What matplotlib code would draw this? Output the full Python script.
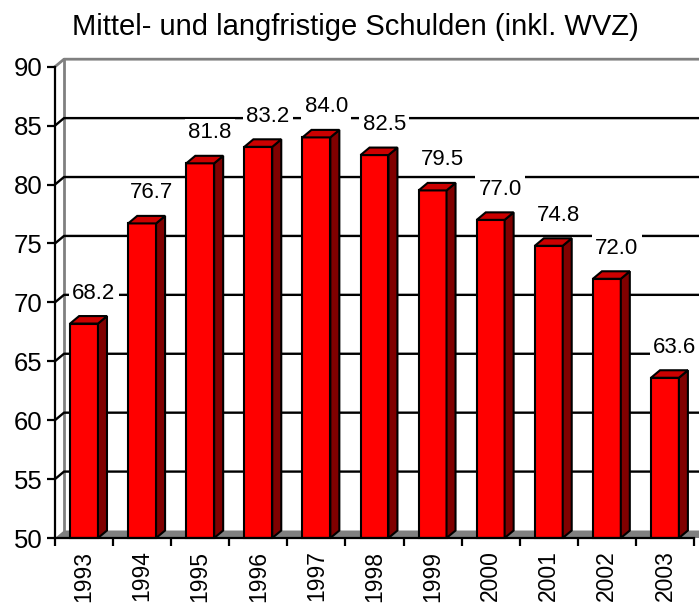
import matplotlib.pyplot as plt
from matplotlib.patches import Polygon, Rectangle

years = ['1993', '1994', '1995', '1996', '1997', '1998', '1999', '2000', '2001', '2002', '2003']
debt = [68.2, 76.7, 81.8, 83.2, 84.0, 82.5, 79.5, 77.0, 74.8, 72.0, 63.6]
yticks = [50, 55, 60, 65, 70, 75, 80, 85, 90]

plt.rcParams['font.family'] = ['Liberation Sans', 'DejaVu Sans']

fig = plt.figure(figsize=(6.99, 6.03), dpi=100)
ax = fig.add_axes([55 / 699, 65 / 603, 639 / 699, 471.3 / 603])

ymin, ymax = 50, 90
ncat = len(years)
ax.set_xlim(0, ncat)
ax.set_ylim(ymin, ymax)

# depth offset of the 3D look, in data units
dx = 9 / 58.1
dy = 7.5 / 11.78
bw = 0.48

# back wall + side wall
ax.add_patch(Polygon([(dx, ymin + dy), (ncat + dx, ymin + dy), (ncat + dx, ymax + dy), (dx, ymax + dy)],
                     closed=True, fc='white', ec='none', clip_on=False, zorder=0))
ax.plot([0, dx, ncat + dx + 1], [ymax, ymax + dy, ymax + dy], color='gray', lw=2, clip_on=False, zorder=1)
ax.plot([dx, dx], [ymin + dy, ymax + dy], color='gray', lw=2, clip_on=False, zorder=1)

# gridlines on the walls
for t in yticks[1:-1]:
    ax.plot([0, dx, ncat + dx + 1], [t, t + dy, t + dy], color='black', lw=1.7, clip_on=False, zorder=1)

# floor
ax.add_patch(Polygon([(0, ymin), (ncat + 1, ymin), (ncat + 1 + dx, ymin + dy), (dx, ymin + dy)],
                     closed=True, fc='#808080', ec='none', clip_on=False, zorder=2))

# bars
for i, v in enumerate(debt):
    x0 = i + 0.5 - bw / 2
    x1 = x0 + bw
    ax.add_patch(Rectangle((x0, ymin), bw, v - ymin, fc='#ff0000', ec='black', lw=1.5, zorder=3, clip_on=False))
    ax.add_patch(Polygon([(x1, ymin), (x1 + dx, ymin + dy), (x1 + dx, v + dy), (x1, v)],
                         closed=True, fc='#800000', ec='black', lw=1.5, zorder=3, clip_on=False))
    ax.add_patch(Polygon([(x0, v), (x1, v), (x1 + dx, v + dy), (x0 + dx, v + dy)],
                         closed=True, fc='#cc0000', ec='black', lw=1.5, zorder=3, clip_on=False))
    ax.annotate(f'{v:.1f}', (i + 0.5, v), xytext=(7, 22), textcoords='offset points',
                ha='center', va='center', fontsize=16, zorder=5,
                bbox=dict(boxstyle='square,pad=0.15', fc='white', ec='none'))

# axes
for s in ['top', 'right']:
    ax.spines[s].set_visible(False)
for s in ['left', 'bottom']:
    ax.spines[s].set_linewidth(1.6)
    ax.spines[s].set_zorder(4)
ax.set_yticks(yticks)
ax.tick_params(axis='y', length=6, width=1.6, labelsize=18.5, pad=3)
ax.set_xticks([i + 0.5 for i in range(ncat)])
ax.set_xticklabels(years, rotation=90, fontsize=16.5)
ax.set_xticks(range(ncat + 1), minor=True)
ax.tick_params(axis='x', which='major', length=0, pad=9)
ax.tick_params(axis='x', which='minor', length=6, width=1.6)
ax.set_facecolor('none')

fig.text(355 / 699, 1 - 27 / 603, 'Mittel- und langfristige Schulden (inkl. WVZ)',
         ha='center', va='center', fontsize=21)

fig.savefig('out.png', dpi=100)
